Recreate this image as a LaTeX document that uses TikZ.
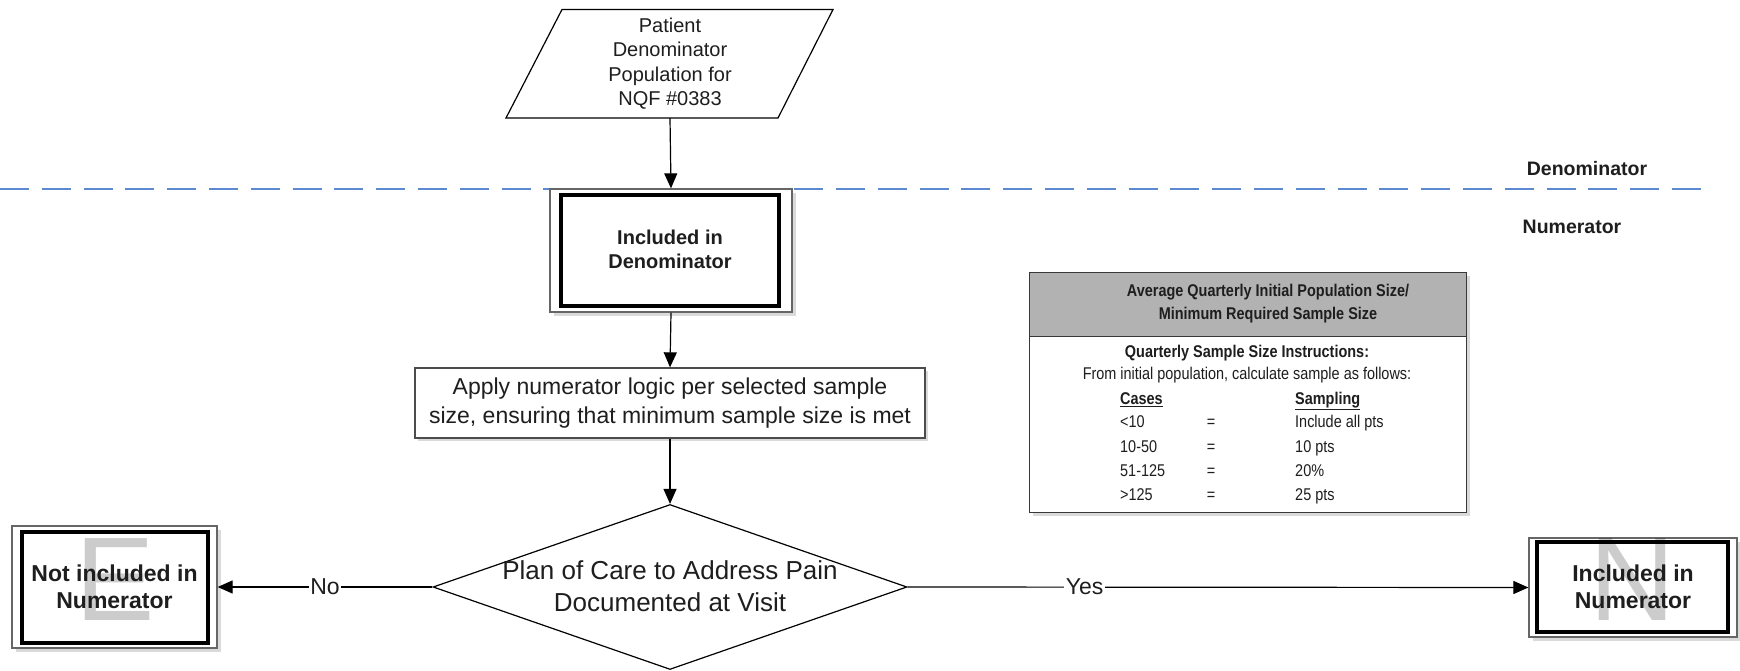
\documentclass[tikz,border=0pt]{standalone}
\usepackage{fontspec}
\setmainfont{Liberation Sans}
\newfontfamily\narrowfont[FakeStretch=0.85]{Liberation Sans}
\usetikzlibrary{shapes.geometric,arrows.meta,shadows,calc}
\definecolor{dashblue}{HTML}{5B8AD0}
\definecolor{txt}{HTML}{1E1E1E}
\definecolor{hdrgray}{HTML}{B2B2B2}
\definecolor{shd}{HTML}{DADADA}
\begin{document}
\begin{tikzpicture}[x=1pt,y=-1pt,
  every node/.style={text=txt},
  arr/.style={-{Triangle[length=15pt,width=13pt]}, line width=1.2pt, black},
  lbl/.style={fill=white, inner sep=1.5pt, font=\fontsize{23}{27}\selectfont},
  outerbox/.style={rectangle, draw=black!60, line width=1.3pt, fill=white, inner sep=0pt,
     drop shadow={shadow xshift=4pt, shadow yshift=-4pt, fill=shd, opacity=1}},
  innerline/.style={draw=black, line width=4pt},
  boxtext/.style={align=center, inner sep=0pt, font=\fontsize{23}{27}\selectfont\bfseries},
  wm/.style={inner sep=0pt, text=black, text opacity=0.2, font=\fontsize{119}{119}\selectfont},
  tblbox/.style={rectangle, draw=black!78, line width=1.4pt, inner sep=0pt},
  tt/.style={inner sep=0pt, font=\narrowfont\fontsize{17}{23}\selectfont, text height=12pt, text depth=3.5pt},
  ttb/.style={tt, font=\narrowfont\fontsize{17}{23}\selectfont\bfseries},
  side/.style={inner sep=0pt, font=\fontsize{19.5}{23}\selectfont\bfseries}
]
\useasboundingbox (0,0) rectangle (1740,671);
\fill[white] (0,0) rectangle (1740,671);

% dashed separator
\draw[dashblue, line width=1.6pt, dash pattern=on 29pt off 12.8pt] (0,189) -- (1710,189);
\node[side] (denlab) at (1587,169) {Denominator};
\node[side] (numlab) at (1572,227) {Numerator};

% source parallelogram
\draw[line width=1.2pt, fill=white] (506,118) -- (778,118) -- (833,9.5) -- (562,9.5) -- cycle;
\node[inner sep=0pt, minimum height=108.5pt, minimum width=220pt, align=center,
      font=\fontsize{20}{24.3}\selectfont] (src) at (670,63.75)
      {Patient\\Denominator\\Population for\\NQF \#0383};

% included in denominator
\node[outerbox, minimum width=242pt, minimum height=123pt] (den) at (671,250.5) {};
\draw[innerline] ([xshift=12pt,yshift=-7pt]den.north west) rectangle ([xshift=-14pt,yshift=7pt]den.south east);
\node[boxtext, font=\fontsize{20}{24}\selectfont\bfseries] (den-t) at (670,249) {Included in\\Denominator};

% apply box
\node[rectangle, draw=black!70, line width=1.3pt, fill=white, minimum width=510pt, minimum height=70pt,
      inner sep=0pt, align=center, font=\fontsize{23}{29}\selectfont,
      drop shadow={shadow xshift=3pt, shadow yshift=-3pt, fill=shd, opacity=1}] (apply) at (670,403)
      {Apply numerator logic per selected sample\\size, ensuring that minimum sample size is met};

% decision
\node[diamond, draw=black, line width=1.2pt, fill=white, minimum width=474pt, minimum height=165pt,
      inner sep=0pt] (dec) at (670,587) {};
\node[align=center, inner sep=0pt, font=\fontsize{26}{32}\selectfont] (dec-t) at (670,586)
      {Plan of Care to Address Pain\\Documented at Visit};

% not included in numerator
\node[outerbox, minimum width=205pt, minimum height=122pt] (notinc) at (114.5,587) {};
\node[wm] (wmE) at (115,579.5) {E};
\draw[innerline] ([xshift=11pt,yshift=-7pt]notinc.north west) rectangle ([xshift=-10pt,yshift=6pt]notinc.south east);
\node[boxtext] (notinc-t) at (114.5,586.5) {Not included in\\Numerator};

% included in numerator
\node[outerbox, minimum width=208pt, minimum height=99pt] (incnum) at (1633,587.5) {};
\draw[innerline] ([xshift=9pt,yshift=-5pt]incnum.north west) rectangle ([xshift=-10pt,yshift=6pt]incnum.south east);
\node[wm] (wmN) at (1632,579.5) {N};
\node[boxtext] (incnum-t) at (1633,586.5) {Included in\\Numerator};

% connectors
\draw[arr] (src.south) -- (den.north);
\draw[arr] (den.south) -- (apply.north);
\draw[arr] (apply.south) -- (dec.north);
\draw[arr] (dec.west) -- node[lbl] (nolab) {No} (notinc.east);
\draw[arr] (dec.east) -- node[lbl, pos=0.285] (yeslab) {Yes} (incnum.west);

% sample-size table
\fill[shd] (1033,276) rectangle (1470,516);
\node[tblbox, fill=hdrgray, minimum width=437pt, minimum height=64pt, anchor=north west] (hdr) at (1029,272) {};
\node[tblbox, fill=white, minimum width=437pt, minimum height=176pt, anchor=north west] (body) at (1029,336) {};
\node[align=center, inner sep=0pt, font=\narrowfont\fontsize{17}{23}\selectfont\bfseries] (hdr-t) at (1268,303.5)
   {Average Quarterly Initial Population Size/\\Minimum Required Sample Size};
\node[ttb] (qs) at (1247,353) {Quarterly Sample Size Instructions:};
\node[tt] (fi) at (1247,375) {From initial population, calculate sample as follows:};
\node[ttb, anchor=west] (cases) at (1120,400) {\underline{Cases}};
\node[ttb, anchor=west] (sampling) at (1295,400) {\underline{Sampling}};
\foreach \y/\c/\s [count=\i] in {423/{<10}/{Include all pts}, 448/{10-50}/{10 pts}, 472/{51-125}/{20\%}, 496/{>125}/{25 pts}}{
  \node[tt, anchor=west] (c\i) at (1120,\y) {\c};
  \node[tt] (e\i) at (1211,\y) {=};
  \node[tt, anchor=west] (s\i) at (1295,\y) {\s};
}
\end{tikzpicture}
\end{document}
